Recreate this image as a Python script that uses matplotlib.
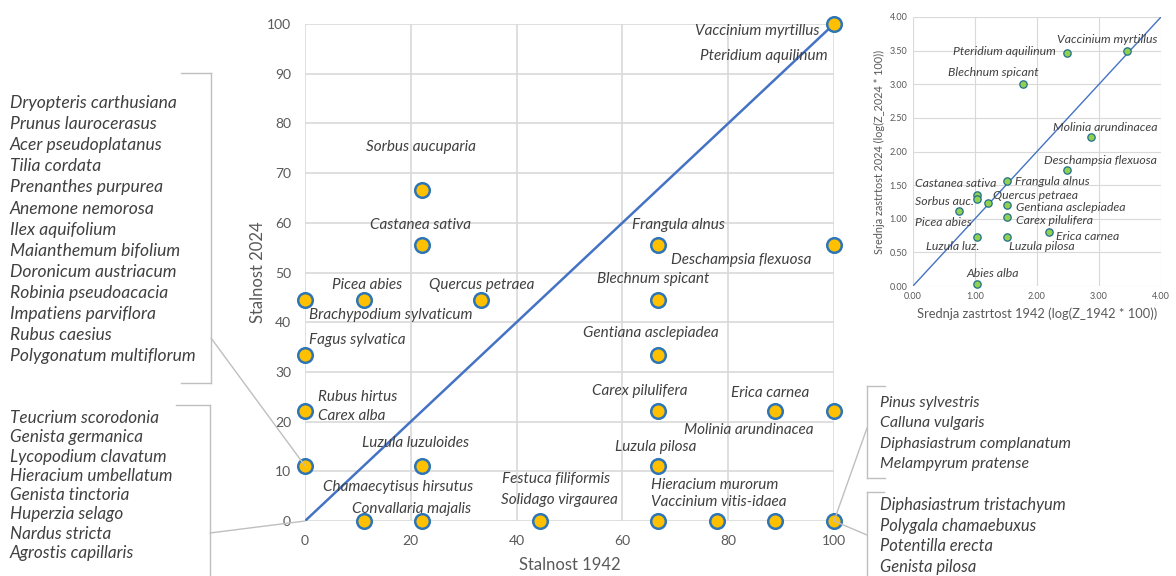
import matplotlib
matplotlib.use("Agg")
import matplotlib.pyplot as plt
from matplotlib.lines import Line2D

plt.rcParams['font.family'] = ['Lato', 'DejaVu Sans']

# ---------------- main chart data (Stalnost) ----------------
stal_1942 = [100, 22.2, 22.2, 66.7, 100, 0, 11.1, 33.3, 66.7, 0, 66.7, 0, 66.7, 88.9, 100,
             0, 22.2, 66.7, 11.1, 22.2, 44.4, 66.7, 77.8, 88.9, 100]
stal_2024 = [100, 66.7, 55.6, 55.6, 55.6, 44.4, 44.4, 44.4, 44.4, 33.3, 33.3, 22.2, 22.2, 22.2, 22.2,
             11.1, 11.1, 11.1, 0, 0, 0, 0, 0, 0, 0]

# labels: (text, x, y) in data units of the main chart
main_labels = [
    ("Vaccinium myrtillus", 73.7, 98.6),
    ("Pteridium aquilinum", 74.7, 93.6),
    ("Sorbus aucuparia", 11.5, 75.3),
    ("Castanea sativa", 12.3, 59.6),
    ("Frangula alnus", 61.8, 59.6),
    ("Deschampsia flexuosa", 69.2, 52.5),
    ("Picea abies", 5.1, 47.5),
    ("Quercus petraea", 23.4, 47.5),
    ("Blechnum spicant", 55.2, 48.7),
    ("Brachypodium sylvaticum", 0.8, 41.4),
    ("Fagus sylvatica", 0.8, 36.4),
    ("Gentiana asclepiadea", 52.6, 37.8),
    ("Rubus hirtus", 2.5, 24.9),
    ("Carex alba", 2.5, 21.1),
    ("Carex pilulifera", 54.3, 26.2),
    ("Erica carnea", 80.5, 25.8),
    ("Molinia arundinacea", 71.6, 18.3),
    ("Luzula luzuloides", 10.8, 15.7),
    ("Luzula pilosa", 58.6, 14.9),
    ("Chamaecytisus hirsutus", 3.4, 6.8),
    ("Convallaria majalis", 8.9, 2.4),
    ("Festuca filiformis", 37.2, 8.5),
    ("Solidago virgaurea", 37.1, 4.2),
    ("Hieracium murorum", 65.4, 7.2),
    ("Vaccinium vitis-idaea", 65.4, 3.8),
]

list_upper_left = ["Dryopteris carthusiana", "Prunus laurocerasus", "Acer pseudoplatanus",
                   "Tilia cordata", "Prenanthes purpurea", "Anemone nemorosa", "Ilex aquifolium",
                   "Maianthemum bifolium", "Doronicum austriacum", "Robinia pseudoacacia",
                   "Impatiens parviflora", "Rubus caesius", "Polygonatum multiflorum"]
list_lower_left = ["Teucrium scorodonia", "Genista germanica", "Lycopodium clavatum",
                   "Hieracium umbellatum", "Genista tinctoria", "Huperzia selago",
                   "Nardus stricta", "Agrostis capillaris"]
list_upper_right = ["Pinus sylvestris", "Calluna vulgaris", "Diphasiastrum complanatum",
                    "Melampyrum pratense"]
list_lower_right = ["Diphasiastrum tristachyum", "Polygala chamaebuxus", "Potentilla erecta",
                    "Genista pilosa"]

main_xticks = [0, 20, 40, 60, 80, 100]
main_yticks = [0, 10, 20, 30, 40, 50, 60, 70, 80, 90, 100]

# ---------------- inset data (Srednja zastrtost, log) ----------------
inset_names = ["Vaccinium myrtillus", "Pteridium aquilinum", "Blechnum spicant",
               "Molinia arundinacea", "Deschampsia flexuosa", "Frangula alnus",
               "Castanea sativa", "Sorbus auc.", "Quercus petraea", "Picea abies",
               "Gentiana asclepiadea", "Carex pilulifera", "Erica carnea", "Luzula luz.",
               "Luzula pilosa", "Abies alba"]
z_1942 = [3.45, 2.48, 1.78, 2.87, 2.48, 1.51, 1.04, 1.04, 1.21, 0.74, 1.51, 1.52, 2.19, 1.04, 1.51, 1.04]
z_2024 = [3.49, 3.46, 3.00, 2.22, 1.73, 1.56, 1.36, 1.29, 1.24, 1.11, 1.21, 1.03, 0.81, 0.73, 0.73, 0.03]
inset_label_pos = [(2.32, 3.67), (0.645, 3.48), (0.565, 3.17), (2.26, 2.36), (2.11, 1.87),
                   (1.645, 1.56), (0.03, 1.52), (0.03, 1.26), (1.29, 1.34), (0.03, 0.95),
                   (1.66, 1.17), (1.66, 0.98), (2.31, 0.73), (0.21, 0.58), (1.55, 0.58),
                   (0.855, 0.19)]
inset_xticks = [0, 1, 2, 3, 4]
inset_yticks = [0, 0.5, 1, 1.5, 2, 2.5, 3, 3.5, 4]

W, H = 1176, 576
TXT = "#404040"
GRID = "#d9d9d9"
LEAD = "#bfbfbf"

fig = plt.figure(figsize=(W / 100, H / 100), dpi=100)

def fx(px):
    return px / W

def fy(py):
    return 1 - py / H

# ---------------- main axes ----------------
ax = fig.add_axes([fx(305), fy(521), (834 - 305) / W, (521 - 24) / H])
ax.set_xlim(0, 100)
ax.set_ylim(0, 100)
ax.set_xticks(main_xticks)
ax.set_yticks(main_yticks)
ax.grid(True, color=GRID, linewidth=1.2)
ax.set_axisbelow(True)
for s in ax.spines.values():
    s.set_visible(False)
ax.tick_params(length=0, labelsize=10, labelcolor="#595959", pad=10)
ax.plot([0, 100], [0, 100], color="#4472C4", linewidth=1.8, zorder=2)
ax.scatter(stal_1942, stal_2024, s=110, color="#FFC000", edgecolor="#2E75B6",
           linewidth=1.8, zorder=3, clip_on=False)
for t, x, y in main_labels:
    ax.text(x, y, t, fontsize=11, style="italic", color=TXT, ha="left", va="center", zorder=4)
ax.set_xlabel("Stalnost 1942", fontsize=12, color="#595959", labelpad=7)
ax.set_ylabel("Stalnost 2024", fontsize=12, color="#595959", labelpad=1)

# ---------------- lists with brackets ----------------
def draw_list(items, x0, y0, dy, size):
    for i, t in enumerate(items):
        fig.text(fx(x0), fy(y0 + i * dy), t, fontsize=size, style="italic",
                 color=TXT, ha="left", va="center")

def seg(p, q):
    fig.add_artist(Line2D([fx(p[0]), fx(q[0])], [fy(p[1]), fy(q[1])],
                          color=LEAD, linewidth=1.0, transform=fig.transFigure))

draw_list(list_upper_left, 10, 103, 21.1, 12.6)
seg((181, 73), (211, 73)); seg((211, 73), (211, 383)); seg((181, 383), (211, 383))
draw_list(list_lower_left, 10, 418, 19.3, 12.3)
seg((176, 405), (210, 405)); seg((210, 405), (210, 576))
draw_list(list_upper_right, 880, 403, 20.3, 11.4)
seg((867, 386), (885, 386)); seg((867, 386), (867, 478)); seg((867, 478), (885, 478))
draw_list(list_lower_right, 880, 505, 20.7, 11.9)
seg((867, 492), (884, 492)); seg((867, 492), (867, 576))

def leader(px, py, x, y):
    ax.annotate("", xy=(x, y), xycoords="data", xytext=(px, H - py),
                textcoords="figure pixels",
                arrowprops=dict(arrowstyle="-", color=LEAD, lw=1.0, shrinkA=0, shrinkB=0),
                annotation_clip=False)

leader(211, 338, stal_1942[15], stal_2024[15])
leader(210, 533, 0, 0)
leader(867, 428, stal_1942[24], stal_2024[24])
leader(867, 535, stal_1942[24], stal_2024[24])

# ---------------- inset axes ----------------
ax2 = fig.add_axes([fx(913), fy(286), (1161 - 913) / W, (286 - 17) / H])
ax2.set_xlim(0, 4)
ax2.set_ylim(0, 4)
ax2.set_xticks(inset_xticks)
ax2.set_yticks(inset_yticks)
ax2.set_xticklabels([f"{v:.2f}" for v in inset_xticks])
ax2.set_yticklabels([f"{v:.2f}" for v in inset_yticks])
ax2.grid(True, color=GRID, linewidth=0.8)
ax2.set_axisbelow(True)
for s in ax2.spines.values():
    s.set_visible(False)
ax2.tick_params(length=0, labelsize=6.5, labelcolor="#595959", pad=4)
ax2.plot([0, 4], [0, 4], color="#4472C4", linewidth=1.0, zorder=2)
ax2.scatter(z_1942, z_2024, s=28, color="#92D050", edgecolor="#1F6F8B",
            linewidth=0.9, zorder=3, clip_on=False)
for t, (x, y) in zip(inset_names, inset_label_pos):
    ax2.text(x, y, t, fontsize=8.8, style="italic", color=TXT, ha="left", va="center", zorder=4)
ax2.set_xlabel("Srednja zastrtost 1942 (log(Z_1942 * 100))", fontsize=9.3, color="#595959", labelpad=5)
ax2.set_ylabel("Srednja zastrtost 2024 (log(Z_2024 * 100))", fontsize=7.8, color="#595959", labelpad=3)

fig.savefig("out.png", dpi=100)
